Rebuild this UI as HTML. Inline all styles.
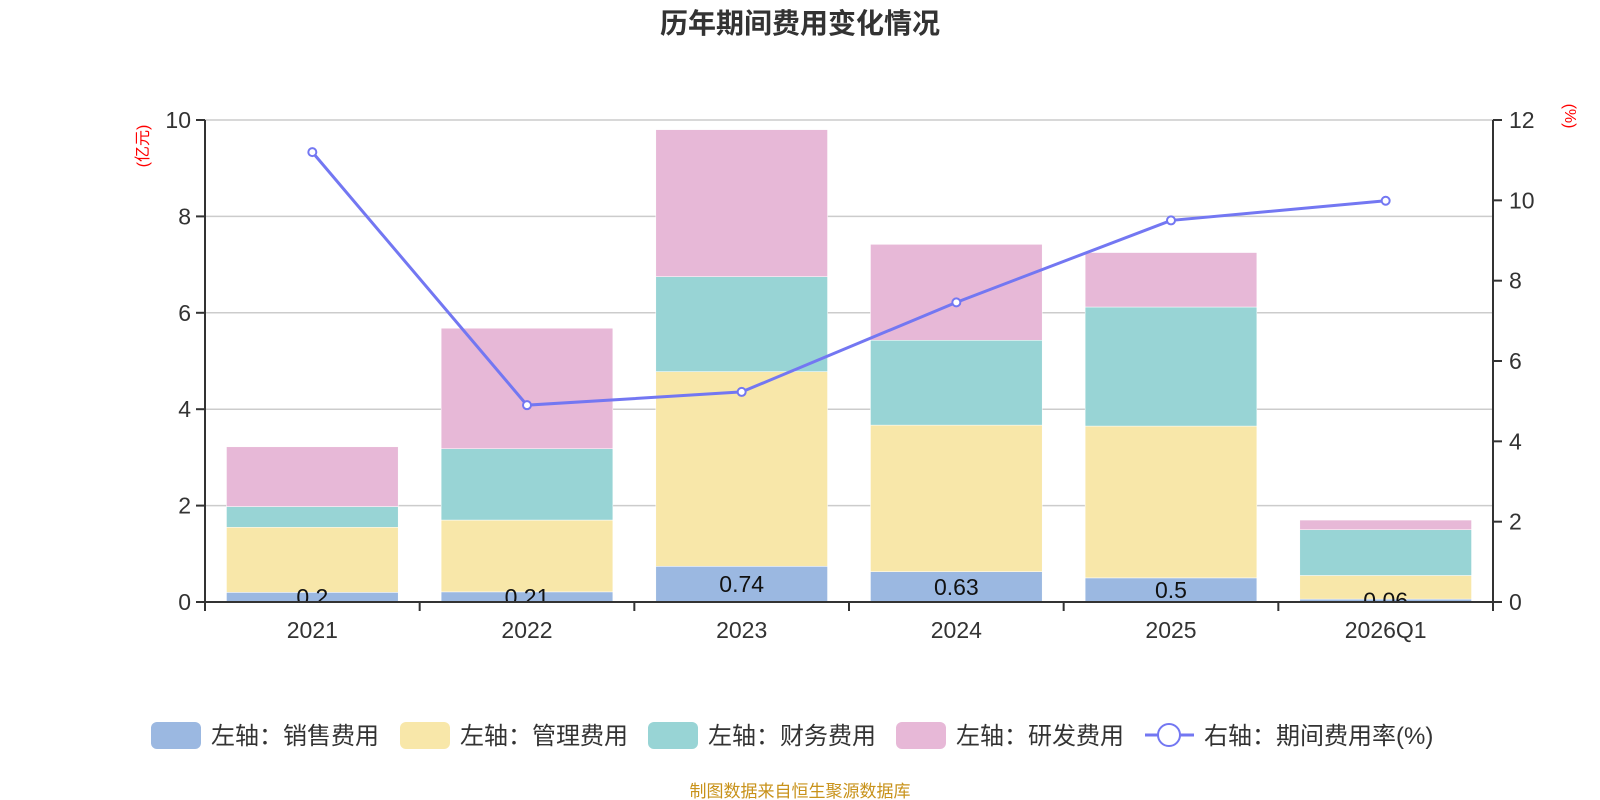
<!DOCTYPE html>
<html><head><meta charset="utf-8"><style>
body{margin:0;background:#fff;}
svg{display:block;font-family:"Liberation Sans","Noto Sans CJK SC",sans-serif;}
</style></head><body>
<svg id="chart" width="1600" height="800">
<text x="800" y="33" text-anchor="middle" font-size="28" font-weight="bold" fill="#333">历年期间费用变化情况</text>
<text transform="translate(148,146) rotate(-90)" text-anchor="middle" font-size="16" fill="#f00">(亿元)</text>
<text transform="translate(1565,116) rotate(90)" text-anchor="middle" font-size="16" fill="#f00">(%)</text>
<g id="grid"></g><g id="bars"></g><g id="labels"></g><g id="axes"></g><g id="line"></g><g id="legend"></g>
<text x="800" y="797" text-anchor="middle" font-size="17" fill="#c8921a">制图数据来自恒生聚源数据库</text>
</svg>
<script>
const categories=["2021","2022","2023","2024","2025","2026Q1"];
const sales=[0.2,0.21,0.74,0.63,0.5,0.06];
const admin=[1.35,1.49,4.04,3.04,3.15,0.49];
const finance=[0.43,1.48,1.97,1.76,2.47,0.95];
const rnd=[1.24,2.5,3.05,1.99,1.13,0.2];
const rate=[11.2,4.9,5.23,7.46,9.5,9.99];
const leftTicks=[0,2,4,6,8,10];
const rightTicks=[0,2,4,6,8,10,12];
const salesLabels=["0.2","0.21","0.74","0.63","0.5","0.06"];
const NS="http://www.w3.org/2000/svg";
const X0=205,X1=1493,Y0=602,Y1=120;
const band=(X1-X0)/categories.length;
const yL=v=>Y0-(v/10)*(Y0-Y1);
const yR=v=>Y0-(v/12)*(Y0-Y1);
const xC=i=>X0+band*(i+0.5);
function mk(tag,attrs,parent,text){const e=document.createElementNS(NS,tag);for(const k in attrs)e.setAttribute(k,attrs[k]);if(text!==undefined)e.textContent=text;document.getElementById(parent).appendChild(e);return e;}
leftTicks.forEach(t=>{
 if(t>0){const g=mk('line',{x1:X0,x2:X1,y1:yL(t),y2:yL(t),stroke:'#ccc','stroke-width':1.5},'grid');
 
 }
 const tk=mk('line',{x1:X0-9,x2:X0,y1:yL(t),y2:yL(t),stroke:'#333','stroke-width':2},'axes');
 
 
 const l=mk('text',{x:X0-14,y:yL(t)+8,'text-anchor':'end','font-size':23,fill:'#333'},'axes',String(t));
 
 
});
rightTicks.forEach(t=>{
 const tk=mk('line',{x1:X1,x2:X1+9,y1:yR(t),y2:yR(t),stroke:'#333','stroke-width':2},'axes');
 
 
 const l=mk('text',{x:X1+16,y:yR(t)+8,'font-size':23,fill:'#333'},'axes',String(t));
 
 
});
const series=[[sales,'#9bb8e1','bar-sales'],[admin,'#f8e7a9','bar-admin'],[finance,'#98d4d5','bar-finance'],[rnd,'#e7b8d7','bar-rnd']];
categories.forEach((c,i)=>{
 let base=0;const bw=band*0.8,bx=xC(i)-bw/2;
 series.forEach(([arr,col,nm])=>{
  const v=arr[i];const r=mk('rect',{x:bx,y:yL(base+v),width:bw,height:yL(base)-yL(base+v),fill:col,stroke:'#fff','stroke-width':0.5},'bars');
  
  
  base+=v;
 });
 const lb=mk('text',{x:xC(i),y:(yL(0)+yL(sales[i]))/2+8,'text-anchor':'middle','font-size':23,fill:'#111'},'labels',salesLabels[i]);
 
 
 const xl=mk('text',{x:xC(i),y:Y0+36,'text-anchor':'middle','font-size':23,fill:'#333'},'axes',c);
 
 
});
const cover=mk('rect',{x:X0+2,y:Y0+1,width:X1-X0-4,height:14,fill:'#fff'},'axes');


for(let i=0;i<=categories.length;i++){const t=mk('line',{x1:X0+band*i,x2:X0+band*i,y1:Y0,y2:Y0+9,stroke:'#333','stroke-width':2},'axes');
 
 }
[[X0,X0,Y1,Y0+9,'left-axis'],[X1,X1,Y1,Y0+9,'right-axis'],[X0,X1,Y0,Y0,'x-axis']].forEach(a=>{
 const l=mk('line',{x1:a[0],x2:a[1],y1:a[2],y2:a[3],stroke:'#333','stroke-width':2},'axes');
 
 
});
const pts=rate.map((v,i)=>xC(i)+','+yR(v)).join(' ');
const pl=mk('polyline',{points:pts,fill:'none',stroke:'#7377f2','stroke-width':3},'line');


rate.forEach((v,i)=>{const c=mk('circle',{cx:xC(i),cy:yR(v),r:4,fill:'#fff',stroke:'#7377f2','stroke-width':2},'line');
 
 });
const legItems=[['#9bb8e1','左轴：销售费用',151],['#f8e7a9','左轴：管理费用',400],['#98d4d5','左轴：财务费用',648],['#e7b8d7','左轴：研发费用',896]];
legItems.forEach(([col,txt,x])=>{
 const r=mk('rect',{x:x,y:722,width:50,height:27,rx:6,fill:col},'legend');
 
 
 const t=mk('text',{x:x+60,y:744,'font-size':24,fill:'#333'},'legend',txt);
 
 
});
const ll=mk('line',{x1:1145,x2:1194,y1:735,y2:735,stroke:'#7377f2','stroke-width':3},'legend');


const lc=mk('circle',{cx:1169,cy:735,r:11,fill:'#fff',stroke:'#7377f2','stroke-width':2},'legend');


const lt=mk('text',{x:1204,y:744,'font-size':24,fill:'#333'},'legend','右轴：期间费用率(%)');


</script>
</body></html>
